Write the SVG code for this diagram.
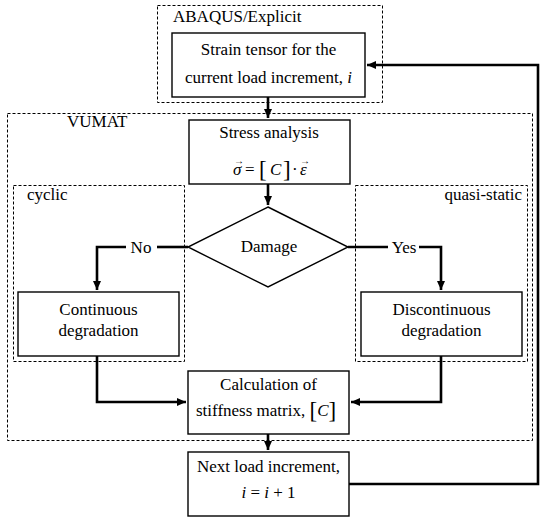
<svg xmlns="http://www.w3.org/2000/svg" width="550" height="524" viewBox="0 0 550 524">
<style>
.bg{fill:#fff}
.box{fill:#fff;stroke:#000;stroke-width:1.4}
.dash{fill:none;stroke:#000;stroke-width:1;stroke-dasharray:3,2}
.con{fill:none;stroke:#000;stroke-width:2.6}
text{font-family:"Liberation Serif","Times New Roman",serif;font-size:17px;fill:#000}
.c{text-anchor:middle}
.it{font-style:italic}
.vec{font-size:10px}
.br{font-size:23px}
</style>
<defs>
<marker id="ah" markerUnits="userSpaceOnUse" markerWidth="10" markerHeight="10" refX="9" refY="4" orient="auto">
<path d="M0,0 L9,4 L0,8 Z" fill="#000"/>
</marker>
</defs>
<rect class="bg" x="0" y="0" width="550" height="524"/>

<g id="abaqus">
<rect class="dash" x="157.5" y="5.5" width="225" height="97"/>
<text x="173" y="22">ABAQUS/Explicit</text>
</g>
<g id="vumat">
<rect class="dash" x="7.5" y="113.5" width="525" height="327"/>
<text x="67" y="127">VUMAT</text>
</g>
<g id="cyclic">
<rect class="dash" x="13.5" y="185.5" width="171" height="176"/>
<text x="27" y="200">cyclic</text>
</g>
<g id="quasi">
<rect class="dash" x="355.5" y="185.5" width="172" height="176"/>
<text x="522" y="200" text-anchor="end">quasi-static</text>
</g>

<g id="connectors">
<path class="con" d="M268,97 V118" marker-end="url(#ah)"/>
<path class="con" d="M268,184 V205" marker-end="url(#ah)"/>
<path class="con" d="M188,247 H157"/>
<path class="con" d="M126,247 H97 V290" marker-end="url(#ah)"/>
<path class="con" d="M348,247 H388"/>
<path class="con" d="M419,247 H441 V290" marker-end="url(#ah)"/>
<path class="con" d="M97,356 V402 H186" marker-end="url(#ah)"/>
<path class="con" d="M441,356 V402 H351" marker-end="url(#ah)"/>
<path class="con" d="M268,434 V450" marker-end="url(#ah)"/>
<path class="con" d="M349,484 H538 V65 H367" marker-end="url(#ah)"/>
<text x="141" y="253" class="c">No</text>
<text x="404" y="253" class="c">Yes</text>
</g>

<g id="strain">
<rect class="box" x="172" y="33" width="193" height="64"/>
<text x="268.5" y="55" class="c">Strain tensor for the</text>
<text x="268.5" y="83" class="c">current load increment, <tspan class="it">i</tspan></text>
</g>

<g id="stress">
<rect class="box" x="189" y="120" width="161" height="64"/>
<text x="269" y="138" class="c">Stress analysis</text>
<text x="233" y="175" class="it">σ</text>
<text x="234" y="164" class="vec">→</text>
<text x="245" y="175">=</text>
<text x="259" y="177" class="br">[</text>
<text x="270" y="175" class="it">C</text>
<text x="283" y="177" class="br">]</text>
<text x="292" y="175">·</text>
<text x="300" y="175" class="it">ε</text>
<text x="300" y="164" class="vec">→</text>
</g>

<g id="damage">
<polygon class="box" points="268,207 348,247 268,287 188,247"/>
<text x="269" y="252" class="c">Damage</text>
</g>

<g id="continuous">
<rect class="box" x="18" y="292" width="161" height="64"/>
<text x="98.5" y="315" class="c">Continuous</text>
<text x="98.5" y="336" class="c">degradation</text>
</g>

<g id="discontinuous">
<rect class="box" x="361" y="292" width="161" height="64"/>
<text x="441.5" y="315" class="c">Discontinuous</text>
<text x="441.5" y="336" class="c">degradation</text>
</g>

<g id="calc">
<rect class="box" x="188" y="371" width="161" height="63"/>
<text x="268.5" y="390" class="c">Calculation of</text>
<text x="196" y="416">stiffness matrix, <tspan class="br" dy="2">[</tspan><tspan class="it" dy="-2">C</tspan><tspan class="br" dy="2">]</tspan></text>
</g>

<g id="next">
<rect class="box" x="188" y="452" width="161" height="64"/>
<text x="268.5" y="472" class="c">Next load increment,</text>
<text x="268.5" y="498" class="c"><tspan class="it">i</tspan> = <tspan class="it">i</tspan> + 1</text>
</g>
</svg>
